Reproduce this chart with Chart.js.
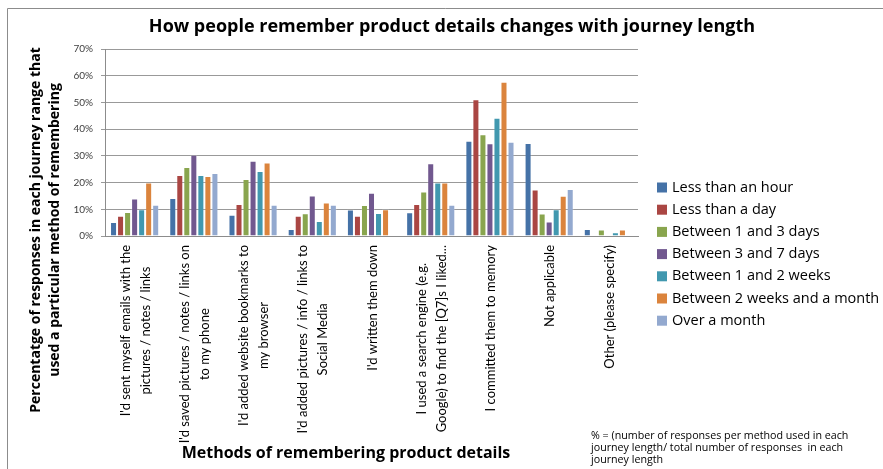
<!DOCTYPE html>
<html>
<head>
<meta charset="utf-8">
<title>How people remember product details</title>
<script src="https://cdn.jsdelivr.net/npm/chart.js@4.4.1/dist/chart.umd.min.js"></script>
<style>
    html, body { margin: 0; padding: 0; background: #ffffff; }
    #wrap { position: relative; width: 883px; height: 469px; }
</style>
</head>
<body>
<div id="wrap"><canvas id="rememberChart"></canvas></div>
<script>
// Chart texts
const chartTitle = 'How people remember product details changes with journey length';
const yAxisTitle = ['Percentatge of responses in each journey range that', 'used a particular method of remembering'];
const xAxisTitle = 'Methods of remembering product details';
const footnote = [
    '% = (number of responses per method used in each',
    'journey length/ total number of responses  in each',
    'journey length'
];

// Categories (x axis), each label split in lines as in the original
const methods = [
    ["I'd sent myself emails with the", 'pictures / notes / links'],
    ["I'd saved pictures / notes / links on", 'to my phone'],
    ["I'd added website bookmarks to", 'my browser'],
    ["I'd added pictures / info / links to", 'Social Media'],
    ["I'd written them down"],
    ['I used a search engine (e.g.', 'Google) to find the [Q7]s I liked...'],
    ['I committed them to memory'],
    ['Not applicable'],
    ['Other (please specify)']
];

// Journey lengths (series names)
const journeyLengths = [
    'Less than an hour',
    'Less than a day',
    'Between 1 and 3 days',
    'Between 3 and 7 days',
    'Between 1 and 2 weeks',
    'Between 2 weeks and a month',
    'Over a month'
];

// Percentages, one array per journey length
const lessThanHour     = [5.2, 14.2, 8.0, 2.6, 9.9, 8.9, 35.7, 34.8, 2.6];
const lessThanDay      = [7.6, 22.8, 12.0, 7.6, 7.6, 12.0, 51.2, 17.4, 0];
const oneToThreeDays   = [9.0, 25.8, 21.3, 8.5, 11.6, 16.7, 38.1, 8.4, 2.4];
const threeToSevenDays = [14.0, 30.4, 28.2, 15.2, 16.2, 27.2, 34.7, 5.4, 0];
const oneToTwoWeeks    = [10.0, 22.8, 24.3, 5.6, 8.6, 20.0, 44.3, 10.0, 1.4];
const twoWeeksToMonth  = [20.0, 22.5, 27.5, 12.5, 10.0, 20.0, 57.7, 15.1, 2.4];
const overMonth        = [11.7, 23.6, 11.7, 11.7, 0, 11.7, 35.3, 17.6, 0];

// Y axis ticks
const yMax = 70;
const yStep = 10;

const seriesValues = [lessThanHour, lessThanDay, oneToThreeDays, threeToSevenDays, oneToTwoWeeks, twoWeeksToMonth, overMonth];
const seriesColors = ['#4572A7', '#AA4643', '#89A54E', '#71588F', '#4198AF', '#DB843D', '#93A9CF'];

// Draws the frame, titles, rotated category labels, legend and footnote
const chartTextPlugin = {
    id: 'chartText',
    afterDraw(chart) {
        const ctx = chart.ctx;
        const xScale = chart.scales.x;
        ctx.save();

        // frame of the chart object
        ctx.strokeStyle = '#8c8c8c';
        ctx.lineWidth = 1;
        ctx.beginPath();
        ctx.moveTo(7.5, 469);
        ctx.lineTo(7.5, 8.5);
        ctx.lineTo(883, 8.5);
        ctx.stroke();

        // main title
        ctx.fillStyle = '#000000';
        ctx.font = 'bold 18px "Open Sans"';
        ctx.textAlign = 'center';
        ctx.textBaseline = 'alphabetic';
        ctx.fillText(chartTitle, 452, 32);

        // y axis title (two rotated lines)
        ctx.save();
        ctx.translate(46, 230);
        ctx.rotate(-Math.PI / 2);
        ctx.font = 'bold 14px "Open Sans"';
        ctx.textBaseline = 'middle';
        yAxisTitle.forEach((line, j) => {
            ctx.fillText(line, 0, (j - 0.5) * 19);
        });
        ctx.restore();

        // category labels, rotated, lines centred on each other
        ctx.font = '13px Lato';
        ctx.fillStyle = '#000000';
        ctx.textBaseline = 'middle';
        methods.forEach((lines, i) => {
            const px = xScale.getPixelForValue(i);
            const longest = Math.max(...lines.map(l => ctx.measureText(l).width));
            ctx.save();
            ctx.translate(px + 1, 245);
            ctx.rotate(-Math.PI / 2);
            ctx.textAlign = 'center';
            lines.forEach((line, j) => {
                ctx.fillText(line, -longest / 2, (j - (lines.length - 1) / 2) * 20);
            });
            ctx.restore();
        });

        // x axis title
        ctx.font = 'bold 16px "Open Sans"';
        ctx.textAlign = 'center';
        ctx.fillText(xAxisTitle, 346, 453);

        // legend
        ctx.font = '14.5px "Open Sans"';
        ctx.textAlign = 'left';
        journeyLengths.forEach((name, i) => {
            const rowY = 187.5 + i * 22.2;
            ctx.fillStyle = seriesColors[i];
            ctx.fillRect(657, rowY - 5, 10, 10);
            ctx.fillStyle = '#000000';
            ctx.fillText(name, 672, rowY);
        });

        // footnote
        ctx.font = '10.7px "Open Sans"';
        footnote.forEach((line, j) => {
            ctx.fillText(line, 591, 436 + j * 12);
        });

        ctx.restore();
    }
};

// Render the grouped bar chart
function renderRememberChart() {
    const ctx = document.getElementById('rememberChart').getContext('2d');

    const datasets = journeyLengths.map((name, i) => ({
        label: name,
        data: seriesValues[i],
        backgroundColor: seriesColors[i],
        borderColor: 'rgba(255, 255, 255, 0.2)',
        borderWidth: 1,
        barPercentage: 1.0,
        categoryPercentage: 0.83
    }));

    new Chart(ctx, {
        type: 'bar',
        data: {
            labels: methods,
            datasets: datasets
        },
        options: {
            responsive: true,
            maintainAspectRatio: false,
            animation: false,
            layout: {
                padding: { top: 49, right: 245, bottom: 233, left: 0 }
            },
            plugins: {
                legend: { display: false },
                title: { display: false },
                tooltip: { enabled: false }
            },
            scales: {
                x: {
                    grid: { display: false, drawTicks: false },
                    border: { display: true, color: '#8c8c8c', width: 1 },
                    ticks: { display: false },
                    afterFit: scale => { scale.height = 0; }
                },
                y: {
                    min: 0,
                    max: yMax,
                    grid: { color: '#999999', lineWidth: 1, tickLength: 4, drawTicks: true },
                    border: { display: true, color: '#8c8c8c', width: 1 },
                    ticks: {
                        stepSize: yStep,
                        padding: 8,
                        color: '#404040',
                        font: { family: 'Lato', size: 10 },
                        callback: value => value + '%'
                    },
                    afterFit: scale => { scale.width = 105; }
                }
            }
        },
        plugins: [chartTextPlugin]
    });
}

document.addEventListener('DOMContentLoaded', () => {
    renderRememberChart();
});
</script>
</body>
</html>
